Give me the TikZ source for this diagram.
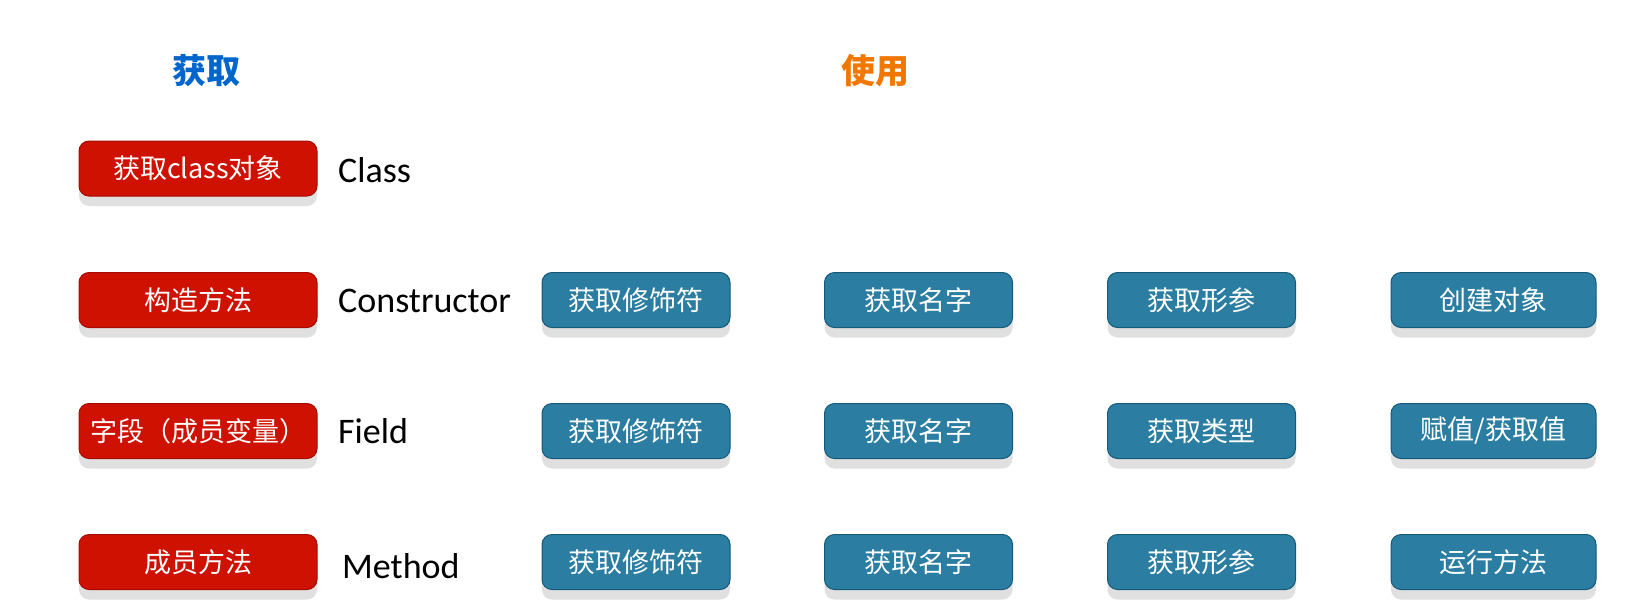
\documentclass[tikz,border=0pt]{standalone}
\usepackage{fontspec}
\setmainfont{Carlito}
\newfontfamily\cjk{Noto Sans CJK SC}
\usetikzlibrary{shadows}
\definecolor{redfill}{RGB}{206,17,0}
\definecolor{redline}{RGB}{165,12,0}
\definecolor{bluefill}{RGB}{43,126,161}
\definecolor{blueline}{RGB}{22,88,120}
\definecolor{titleblue}{RGB}{0,102,204}
\definecolor{titleorange}{RGB}{240,120,0}
\tikzset{
  boxbase/.style={line width=1pt, rounded corners=10pt, minimum height=55pt,
    inner sep=0pt, text=white, font=\cjk\fontsize{27}{30}\selectfont,
    drop shadow={shadow xshift=0pt, shadow yshift=-10pt, fill=black!12, opacity=1}},
  redbox/.style={boxbase, draw=redline, fill=redfill, minimum width=238pt},
  bluebox/.style={boxbase, draw=blueline, fill=bluefill, minimum width=188pt},
  widebox/.style={bluebox, minimum width=205pt},
  label/.style={anchor=west, inner sep=0pt, font=\fontsize{36}{40}\selectfont},
  title/.style={inner sep=0pt, font=\cjk\bfseries\fontsize{34}{38}\selectfont}
}
\begin{document}
\begin{tikzpicture}[x=1pt,y=-1pt]
\useasboundingbox (0,0) rectangle (1638,600);
\fill[white] (0,0) rectangle (1638,600);
% titles
\node[title, text=titleblue] (t1) at (206,71) {获取};
\node[title, text=titleorange] (t2) at (875,71) {使用};
% left column
\node[redbox] (r1) at (198,168.5) {获取class对象};
\node[redbox] (r2) at (198,300) {构造方法};
\node[redbox] (r3) at (198,431) {字段（成员变量）};
\node[redbox] (r4) at (198,562) {成员方法};
% labels
\node[label] (l1) at (338,170) {Class};
\node[label] (l2) at (338,301) {Constructor};
\node[label] (l3) at (338,431) {Field};
\node[label] (l4) at (342,566) {Method};
% constructor row
\node[bluebox] (c1) at (636,300) {获取修饰符};
\node[bluebox] (c2) at (918.5,300) {获取名字};
\node[bluebox] (c3) at (1201.5,300) {获取形参};
\node[widebox] (c4) at (1493.5,300) {创建对象};
% field row
\node[bluebox] (f1) at (636,431) {获取修饰符};
\node[bluebox] (f2) at (918.5,431) {获取名字};
\node[bluebox] (f3) at (1201.5,431) {获取类型};
\node[widebox] (f4) at (1493.5,431) {赋值/获取值};
% method row
\node[bluebox] (m1) at (636,562) {获取修饰符};
\node[bluebox] (m2) at (918.5,562) {获取名字};
\node[bluebox] (m3) at (1201.5,562) {获取形参};
\node[widebox] (m4) at (1493.5,562) {运行方法};
\end{tikzpicture}
\end{document}
